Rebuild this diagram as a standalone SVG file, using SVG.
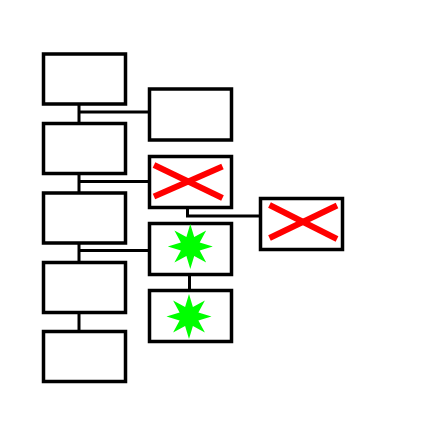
<svg xmlns="http://www.w3.org/2000/svg" width="424" height="430" viewBox="0 0 424 430">
<style>
.box{fill:#fff;stroke:#000;stroke-width:3.5}
.conn{fill:none;stroke:#000;stroke-width:3}
.x{stroke:#ff0000;stroke-width:6;stroke-linecap:butt}
.star{fill:#00ff00}
</style>
<defs>
<polygon id="star" class="star" points="0,-22.5 3.9,-9.4 15.9,-15.9 9.4,-3.9 22.5,0 9.4,3.9 15.9,15.9 3.9,9.4 0,22.5 -3.9,9.4 -15.9,15.9 -9.4,3.9 -22.5,0 -9.4,-3.9 -15.9,-15.9 -3.9,-9.4"/>
</defs>
<rect width="424" height="430" fill="#fff"/>
<g id="connectors">
<path class="conn" d="M79,105 V123 M79,112 H149"/>
<path class="conn" d="M79,174 V192 M79,181.5 H149"/>
<path class="conn" d="M79,244 V262 M79,250.5 H149"/>
<path class="conn" d="M79,313 V331"/>
<path class="conn" d="M189.5,275 V289"/>
<path class="conn" d="M187.5,208 V216 H260"/>
</g>
<g id="L1"><rect class="box" x="43.5" y="54" width="82" height="50"/></g>
<g id="L2"><rect class="box" x="43.5" y="123.5" width="82" height="50"/></g>
<g id="L3"><rect class="box" x="43.5" y="193" width="82" height="50"/></g>
<g id="L4"><rect class="box" x="43.5" y="262.5" width="82" height="50"/></g>
<g id="L5"><rect class="box" x="43.5" y="331.5" width="82" height="50"/></g>
<g id="R1"><rect class="box" x="149.5" y="89" width="82" height="51"/></g>
<g id="R2"><rect class="box" x="149.5" y="156.5" width="82" height="51"/>
<line class="x" x1="154" y1="165" x2="222.5" y2="198"/>
<line class="x" x1="154" y1="196.5" x2="222.5" y2="166.5"/></g>
<g id="R3"><rect class="box" x="149.5" y="223.5" width="82" height="51"/>
<use href="#star" transform="translate(190.3,246.5)"/></g>
<g id="R4"><rect class="box" x="149.5" y="290.5" width="82" height="51"/>
<use href="#star" transform="translate(189,316.5)"/></g>
<g id="F1"><rect class="box" x="260.5" y="198.5" width="82" height="51"/>
<line class="x" x1="269.5" y1="205" x2="337" y2="239"/>
<line class="x" x1="269.5" y1="238" x2="337" y2="205.5"/></g>
</svg>
